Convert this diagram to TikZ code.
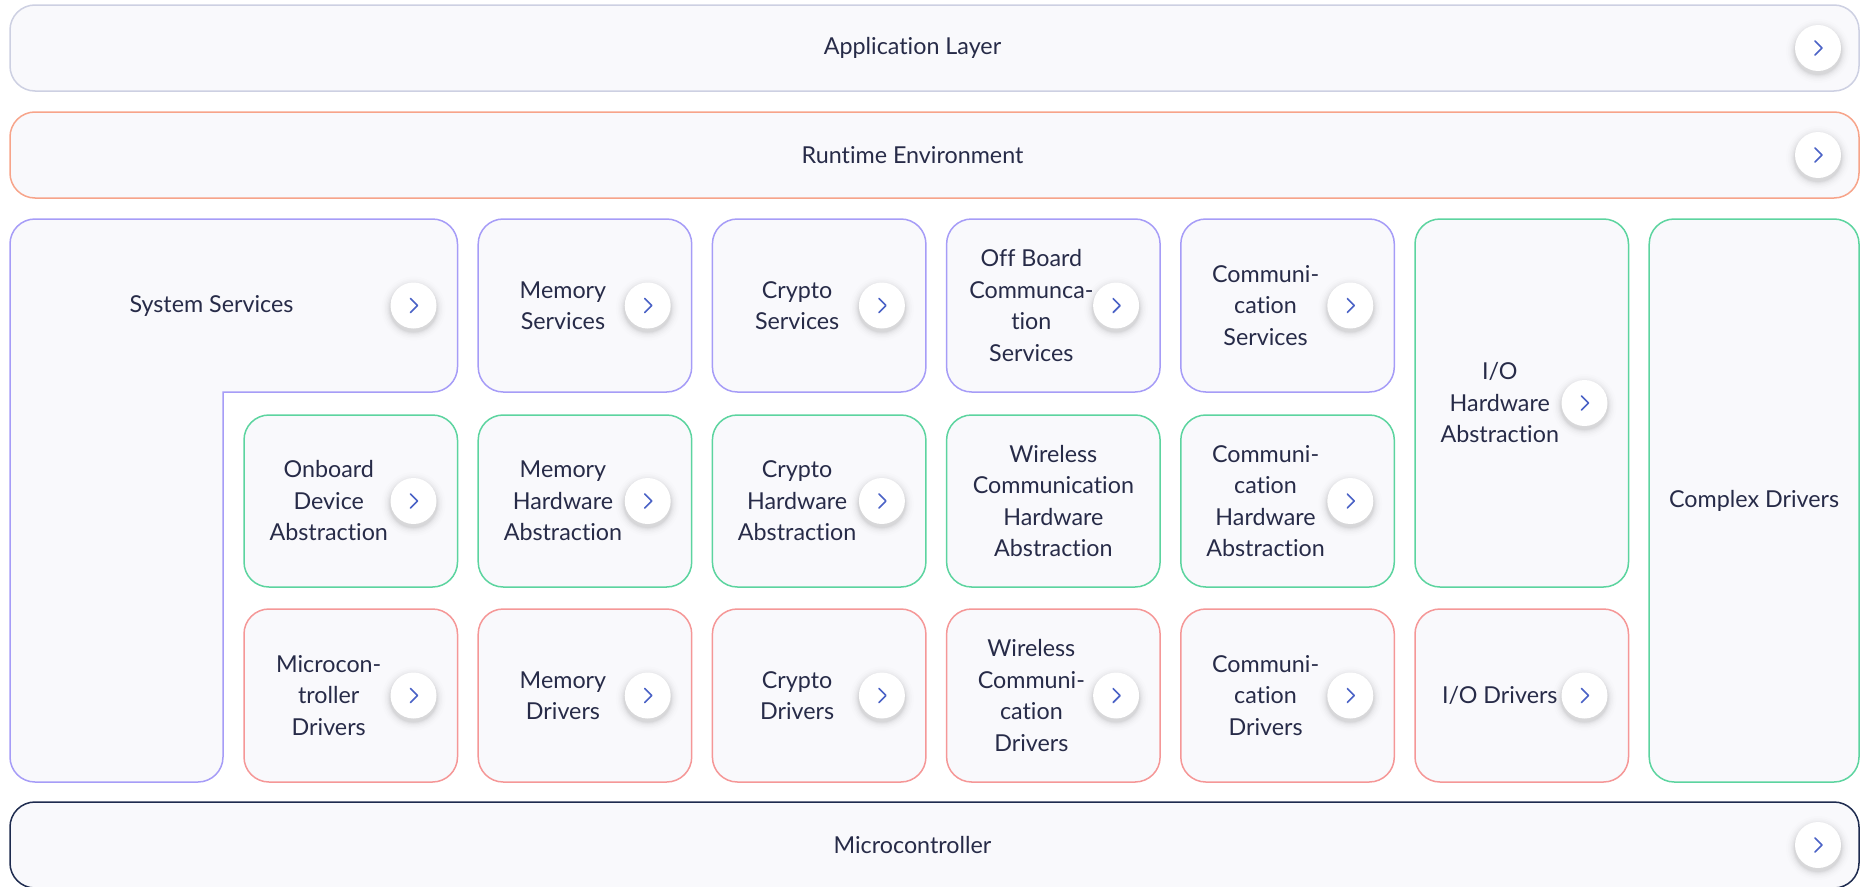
\documentclass[tikz,border=0pt]{standalone}
\usepackage{fontspec}
\setmainfont{Lato}[Ligatures={NoCommon,NoRare}]
\definecolor{fillc}{HTML}{F9F9FC}
\definecolor{appc}{HTML}{CDD0E2}
\definecolor{rtc}{HTML}{F7A48A}
\definecolor{svc}{HTML}{A69CF7}
\definecolor{hwc}{HTML}{5CD49F}
\definecolor{drc}{HTML}{F59797}
\definecolor{mcc}{HTML}{1E2B4F}
\definecolor{txt}{HTML}{272B48}
\definecolor{chev}{HTML}{4A62C6}
\tikzset{
 box/.style={draw=#1, line width=1.5pt, fill=fillc, rounded corners=25pt, inner sep=0pt},
 lbl/.style={text=txt, align=center, font=\fontsize{23.3}{31.5}\selectfont, inner sep=0pt},
 btn/.style={circle, fill=white, minimum size=46pt, inner sep=0pt},
 shade/.style={fill=black, opacity=#1},
 chevline/.style={draw=chev, line width=1.6pt, line cap=round, line join=round},
}
% soft shadow under a button centred at (#1,#2)
\newcommand\btnshadow[2]{%
 \foreach \r/\o in {32/0.008,30/0.011,28.5/0.014,27/0.018,25.8/0.022,24.8/0.026,24/0.03}
   \fill[shade=\o] (#1,#2+3) circle (\r pt);
}
% name, x1, y1, x2, y2, colour, text, button offset from right edge (0 = none)
\newcommand\blk[8]{%
 \pgfmathsetmacro\bkW{#4-#2}%
 \pgfmathsetmacro\bkH{#5-#3}%
 \pgfmathsetmacro\bkX{(#2+#4)/2}%
 \pgfmathsetmacro\bkY{(#3+#5)/2}%
 \node[box=#6, minimum width=\bkW pt, minimum height=\bkH pt] (#1) at (\bkX,\bkY) {};
 \ifnum#8>0
   \pgfmathsetmacro\bkT{\bkX-22}%
   \pgfmathsetmacro\bkB{#4-#8}%
   \node[lbl] (#1-t) at (\bkT,\bkY) {#7};
   \btnshadow{\bkB}{\bkY}
   \node[btn] (#1-b) at (\bkB,\bkY) {};
   \draw[chevline] ([xshift=-3pt,yshift=7pt]#1-b.center) -- ([xshift=4pt]#1-b.center) -- ([xshift=-3pt,yshift=-7pt]#1-b.center);
 \else
   \node[lbl] (#1-t) at (\bkX,\bkY) {#7};
 \fi
}
\begin{document}
\begin{tikzpicture}[x=1pt,y=-1pt]
\useasboundingbox (0,0) rectangle (1860,886);
% wide layers
\blk{app}{10}{5}{1859}{91}{appc}{Application Layer}{41}
\blk{rte}{10}{112}{1859}{198}{rtc}{Runtime Environment}{41}
\blk{mcu}{10}{802}{1859}{888}{mcc}{Microcontroller}{41}
% system services (L shape)
\draw[line width=1.5pt, draw=svc, fill=fillc] (10,500) [rounded corners=25pt] -- (10,219) -- (457.5,219) -- (457.5,392) [sharp corners] -- (223,392) [rounded corners=25pt] -- (223,782) -- (10,782) -- cycle;
\node[lbl] (ss-t) at (211.5,305.5) {System Services};
\btnshadow{413.5}{305.5}
\node[btn] (ss-b) at (413.5,305.5) {};
\draw[chevline] ([xshift=-3pt,yshift=7pt]ss-b.center) -- ([xshift=4pt]ss-b.center) -- ([xshift=-3pt,yshift=-7pt]ss-b.center);
% services row
\blk{mems}{478.2}{219}{691.7}{392}{svc}{Memory\\Services}{44}
\blk{crys}{712.4}{219}{925.9}{392}{svc}{Crypto\\Services}{44}
\blk{offs}{946.6}{219}{1160.1}{392}{svc}{Off Board\\Communca-\\tion\\Services}{44}
\blk{coms}{1180.8}{219}{1394.3}{392}{svc}{Communi-\\cation\\Services}{44}
% abstraction row
\blk{onbh}{244}{415}{457.5}{587}{hwc}{Onboard\\Device\\Abstraction}{44}
\blk{memh}{478.2}{415}{691.7}{587}{hwc}{Memory\\Hardware\\Abstraction}{44}
\blk{cryh}{712.4}{415}{925.9}{587}{hwc}{Crypto\\Hardware\\Abstraction}{44}
\blk{wlsh}{946.6}{415}{1160.1}{587}{hwc}{Wireless\\Communication\\Hardware\\Abstraction}{0}
\blk{comh}{1180.8}{415}{1394.3}{587}{hwc}{Communi-\\cation\\Hardware\\Abstraction}{44}
\blk{ioh}{1415}{219}{1628.5}{587}{hwc}{I/O\\Hardware\\Abstraction}{44}
\blk{cplx}{1649.2}{219}{1859}{782}{hwc}{Complex Drivers}{0}
% drivers row
\blk{mcud}{244}{609}{457.5}{782}{drc}{Microcon-\\troller\\Drivers}{44}
\blk{memd}{478.2}{609}{691.7}{782}{drc}{Memory\\Drivers}{44}
\blk{cryd}{712.4}{609}{925.9}{782}{drc}{Crypto\\Drivers}{44}
\blk{wlsd}{946.6}{609}{1160.1}{782}{drc}{Wireless\\Communi-\\cation\\Drivers}{44}
\blk{comd}{1180.8}{609}{1394.3}{782}{drc}{Communi-\\cation\\Drivers}{44}
\blk{iod}{1415}{609}{1628.5}{782}{drc}{I/O Drivers}{44}
\end{tikzpicture}
\end{document}
